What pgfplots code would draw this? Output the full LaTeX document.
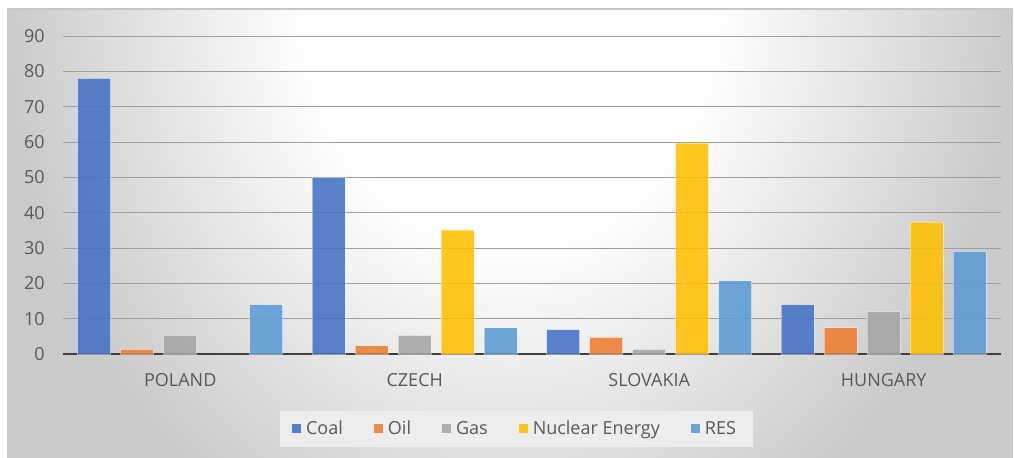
\documentclass[border=0pt]{standalone}
\usepackage{pgfplots}
\pgfplotsset{compat=1.18}
\usepackage{fontspec}
\setmainfont{Open Sans}
\definecolor{coal}{HTML}{4472C4}
\definecolor{oil}{HTML}{ED7D31}
\definecolor{gas}{HTML}{A5A5A5}
\definecolor{nuc}{HTML}{FFC000}
\definecolor{res}{HTML}{5B9BD5}
\definecolor{txt}{HTML}{595959}
\definecolor{bgout}{HTML}{CACACA}
\definecolor{bgin}{HTML}{FFFFFF}
\definecolor{gridc}{HTML}{9E9E9E}
\definecolor{axisc}{HTML}{404040}
\definecolor{legbg}{HTML}{EDEDED}
\pgfdeclareradialshading{bgshade}{\pgfpoint{0bp}{0bp}}{color(0bp)=(bgin); color(22bp)=(bgin); color(55bp)=(bgout); color(200bp)=(bgout)}
\begin{document}
\begin{tikzpicture}
\useasboundingbox (0,0) rectangle (507pt,228.5pt);
\fill[bgout] (3.5pt,0pt) rectangle (506.5pt,224pt);
\begin{scope}
\clip (3.5pt,0pt) rectangle (506.5pt,224pt);
\pgftransformshift{\pgfpoint{255pt}{230pt}}
\pgftransformxscale{4.6}
\pgftransformyscale{5.5}
\pgflowlevelsynccm
\pgfuseshading{bgshade}
\end{scope}
\draw[gray!45, line width=0.6pt] (3.5pt,224pt) -- (506.5pt,224pt);
\begin{axis}[
  at={(31.5pt,51.5pt)}, anchor=south west,
  scale only axis, width=469pt, height=159pt,
  ybar=5pt, bar width=16.5pt,
  xmin=-0.5, xmax=3.5, ymin=0, ymax=90,
  xtick={0,1,2,3},
  xticklabels={POLAND,CZECH,SLOVAKIA,HUNGARY},
  ytick={0,10,...,90},
  separate axis lines,
  axis x line*=bottom, axis y line*=left,
  y axis line style={draw=none},
  x axis line style={color=axisc, line width=0.75pt},
  major tick length=0pt,
  ymajorgrids, major grid style={color=gridc, line width=0.5pt},
  /pgf/number format/assume math mode=true,
  every tick label/.append style={font=\fontsize{9}{11}\selectfont, text=txt},
  yticklabel style={anchor=east, inner sep=0pt, xshift=-9pt},
  xticklabel style={anchor=north, inner sep=0pt, yshift=-9.5pt},
  every axis plot/.append style={fill opacity=0.88, draw=white, draw opacity=0.45, line width=0.4pt},
  legend columns=5,
  legend style={at={(axis description cs:0.4835,-0.2358)}, anchor=center,
    fill=legbg, draw=none, font=\fontsize{9}{11}\selectfont, text=txt,
    inner xsep=6pt, inner ysep=3pt,
    /tikz/every even column/.append style={column sep=13pt},
    nodes={inner xsep=2.5pt}},
  legend image code/.code={\fill[#1, draw=none] (0pt,-2.25pt) rectangle (4.5pt,2.25pt);},
]
\addplot[fill=coal] coordinates {(0,78) (1,50) (2,6.9) (3,14)};
\addplot[fill=oil] coordinates {(0,1.3) (1,2.3) (2,4.7) (3,7.4)};
\addplot[fill=gas] coordinates {(0,5.3) (1,5.3) (2,1.3) (3,12)};
\addplot[fill=nuc] coordinates {(1,35.1) (2,59.7) (3,37.3)};
\addplot[fill=res] coordinates {(0,14) (1,7.4) (2,20.7) (3,29)};
\legend{Coal,Oil,Gas,Nuclear Energy,RES}
\end{axis}
\end{tikzpicture}
\end{document}
